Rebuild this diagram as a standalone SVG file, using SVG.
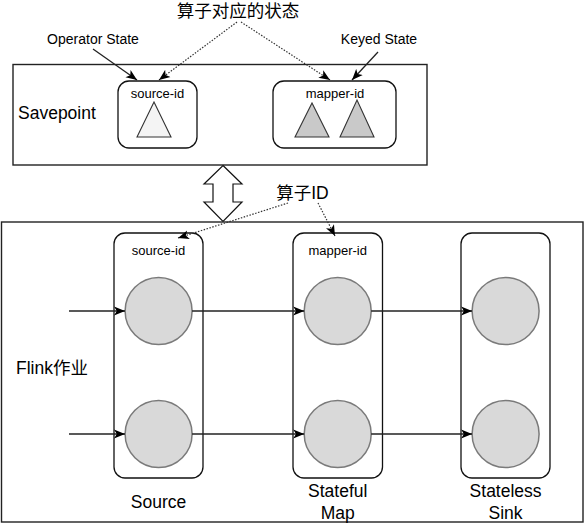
<svg xmlns="http://www.w3.org/2000/svg" width="585" height="525" viewBox="0 0 585 525">
<style>
  .t { font-family: "Liberation Sans", "Noto Sans CJK SC", sans-serif; fill: #000; }
  .lg { font-size: 17.5px; }
  .md { font-size: 14px; }
  .sm { font-size: 13px; }
  .box { fill: #fff; stroke: #222; stroke-width: 1.4; }
  .rbox { fill: #fff; stroke: #111; stroke-width: 1.3; }
  .circ { fill: #d9d9d9; stroke: #7a7a7a; stroke-width: 1.5; }
  .solid { fill: none; stroke: #222; stroke-width: 1.3; }
  .dot { fill: none; stroke: #333; stroke-width: 1.2; stroke-dasharray: 1.5 1.5; }
</style>
<defs>
  <marker id="ah" markerUnits="userSpaceOnUse" markerWidth="12" markerHeight="10" refX="11" refY="4.5" orient="auto" viewBox="0 0 12 9">
    <path d="M0,0 L11,4.5 L0,9 L2.8,4.5 Z" fill="#000"/>
  </marker>
</defs>

<g id="savepoint">
  <rect class="box" x="13" y="64.5" width="414" height="100.5"/>
  <text class="t lg" x="18" y="119">Savepoint</text>
</g>
<g id="sp-source">
  <rect class="rbox" x="118" y="81" width="79" height="67" rx="11"/>
  <text class="t sm" x="157.5" y="98" text-anchor="middle">source-id</text>
  <polygon points="137,137 154,102 171,137" fill="#f4f4f4" stroke="#333" stroke-width="1.1"/>
</g>
<g id="sp-mapper">
  <rect class="rbox" x="273" y="81" width="123" height="67" rx="11"/>
  <text class="t sm" x="335" y="98" text-anchor="middle">mapper-id</text>
  <polygon points="295,137 312,103 329,137" fill="#c9c9c9" stroke="#333" stroke-width="1.1"/>
  <polygon points="340,137 357,100 374,137" fill="#c9c9c9" stroke="#333" stroke-width="1.1"/>
</g>
<g id="label-title">
  <text class="t lg" x="238" y="16.5" text-anchor="middle">算子对应的状态</text>
</g>
<g id="label-operator">
  <text class="t md" x="93" y="44" text-anchor="middle">Operator State</text>
</g>
<g id="label-keyed">
  <text class="t md" x="379" y="44" text-anchor="middle">Keyed State</text>
</g>
<g id="double-arrow">
  <polygon points="223,165.5 242,184 233,184 233,202 242,202 223,221.5 204,202 213,202 213,184 204,184" fill="#fff" stroke="#111" stroke-width="1.2"/>
</g>
<g id="label-opid">
  <text class="t lg" x="302.5" y="199" text-anchor="middle">算子ID</text>
</g>

<g id="flink-job">
  <rect class="box" x="1.5" y="222" width="581.5" height="300"/>
  <text class="t lg" x="16" y="374">Flink作业</text>
</g>
<g id="op-source">
  <rect class="rbox" x="114" y="233" width="89" height="245" rx="11"/>
  <text class="t sm" x="158.5" y="255" text-anchor="middle">source-id</text>
  <circle class="circ" cx="158.6" cy="311" r="33.5"/>
  <circle class="circ" cx="158.6" cy="434" r="33.5"/>
  <text class="t lg" x="158.6" y="508" text-anchor="middle">Source</text>
</g>
<g id="op-map">
  <rect class="rbox" x="293" y="233" width="89.5" height="245" rx="11"/>
  <text class="t sm" x="337.7" y="255" text-anchor="middle">mapper-id</text>
  <circle class="circ" cx="337.7" cy="311" r="33.5"/>
  <circle class="circ" cx="337.7" cy="434" r="33.5"/>
  <text class="t lg" x="337.7" y="497" text-anchor="middle">Stateful</text>
  <text class="t lg" x="337.7" y="519" text-anchor="middle">Map</text>
</g>
<g id="op-sink">
  <rect class="rbox" x="461" y="233" width="89" height="245" rx="11"/>
  <circle class="circ" cx="505.6" cy="311" r="33.5"/>
  <circle class="circ" cx="505.6" cy="434" r="33.5"/>
  <text class="t lg" x="505.6" y="497" text-anchor="middle">Stateless</text>
  <text class="t lg" x="505.6" y="519" text-anchor="middle">Sink</text>
</g>

<g id="connectors">
  <line class="solid" x1="93" y1="49" x2="137" y2="80" marker-end="url(#ah)"/>
  <line class="dot" x1="237" y1="22" x2="159" y2="80" marker-end="url(#ah)"/>
  <line class="dot" x1="241" y1="22" x2="330" y2="80" marker-end="url(#ah)"/>
  <line class="solid" x1="378" y1="52" x2="352" y2="80" marker-end="url(#ah)"/>
  <line class="dot" x1="288" y1="203" x2="178" y2="238" marker-end="url(#ah)"/>
  <line class="dot" x1="318" y1="203" x2="335" y2="236" marker-end="url(#ah)"/>
  <line class="solid" x1="69" y1="311" x2="125" y2="311" marker-end="url(#ah)"/>
  <line class="solid" x1="69" y1="434" x2="125" y2="434" marker-end="url(#ah)"/>
  <line class="solid" x1="192.1" y1="311" x2="304.2" y2="311" marker-end="url(#ah)"/>
  <line class="solid" x1="192.1" y1="434" x2="304.2" y2="434" marker-end="url(#ah)"/>
  <line class="solid" x1="371.2" y1="311" x2="472.1" y2="311" marker-end="url(#ah)"/>
  <line class="solid" x1="371.2" y1="434" x2="472.1" y2="434" marker-end="url(#ah)"/>
</g>
</svg>
